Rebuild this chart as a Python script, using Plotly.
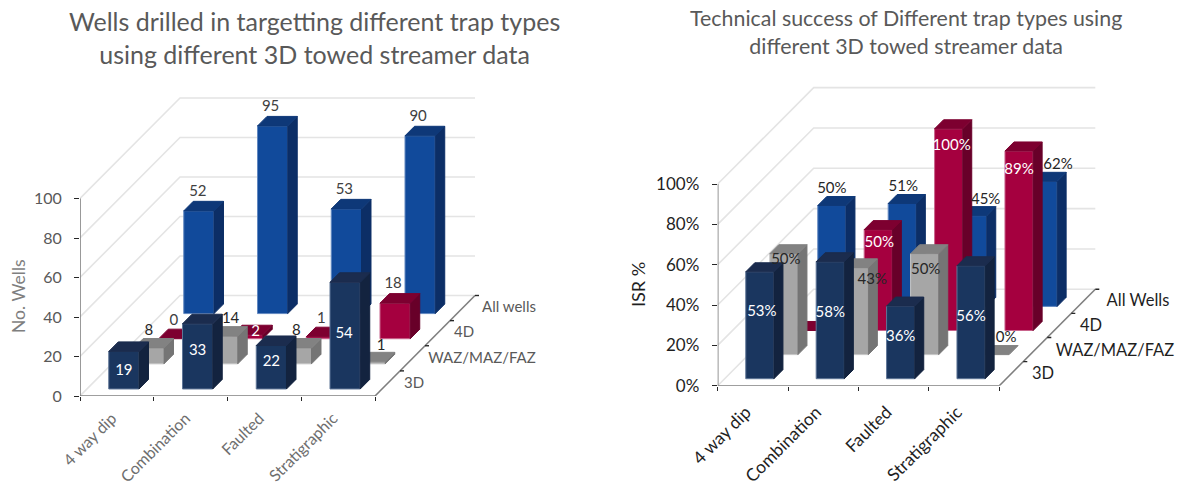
import plotly.graph_objects as go

W, H = 1182, 486
FONT = "Lato"

categories = ["4 way dip", "Combination", "Faulted", "Stratigraphic"]

# Wells drilled, one list per survey type (front row to back row)
wells_3d = [19, 33, 22, 54]
wells_waz = [8, 14, 8, 1]
wells_4d = [0, 2, 1, 18]
wells_all = [52, 95, 53, 90]
wells_rows = ["3D", "WAZ/MAZ/FAZ", "4D", "All wells"]

# Technical success in percent, same row order
tsr_3d = [53, 58, 36, 56]
tsr_waz = [50, 43, 50, 0]
tsr_4d = [0, 50, 100, 89]
tsr_all = [50, 51, 45, 62]
tsr_rows = ["3D", "WAZ/MAZ/FAZ", "4D", "All Wells"]

PALETTE = [
    dict(front="#1a365f", side="#13233f", top="#1b2c4e", edge="#5f7697"),
    dict(front="#a6a6a6", side="#757575", top="#828282", edge="#c6c6c6"),
    dict(front="#a5003f", side="#680029", top="#7d0030", edge="#c9648c"),
    dict(front="#114a9b", side="#0c2e66", top="#0e3878", edge="#6288c0"),
]

# Per-label placement relative to the top-centre of a bar's front face, in pixels:
# (right, down, colour); None means the column carries no label
DARK, WHITE = "#262626", "#ffffff"
wells_labels = [
    [(0, 20, WHITE), (0, 27, WHITE), (0, 17, WHITE), (-1, 52, WHITE)],
    [(0, -17, DARK), (8, -17, DARK), (0, -17, DARK), (11, -16, DARK)],
    [(0, -17, "#404040"), (8, -3, WHITE), (0, -17, "#404040"), (-2, -19, "#404040")],
    [(-1, -19, "#404040"), (-2, -19, "#404040"), (-2, -19, "#404040"), (-2, -19, "#404040")],
]
tsr_labels = [
    [(2, 40, WHITE), (0, 52, WHITE), (0, 31, WHITE), (0, 51, WHITE)],
    [(2, 6, DARK), (18, 12, DARK), (1, 16, DARK), (11, -16, DARK)],
    [None, (1, 14, WHITE), (3, 17, WHITE), (0, 19, WHITE)],
    [(0, -16, DARK), (1, -16, DARK), (13, -15, DARK), (15, -16, DARK)],
]


def panel(suffix, rows_values, row_names, labels, g):
    """Draw one oblique 3D column chart on the axes named by suffix."""
    cat_px, val_px = g["cat_px"], g["val_px"]
    to_x = lambda px: px / cat_px
    to_y = lambda px: -px / val_px
    axes = dict(xaxis="x" + suffix, yaxis="y" + suffix)
    row_dx, row_dy = g["depth_x"] / 4, g["depth_y"] / 4

    def project(cat, depth, value):
        # depth is counted in rows; it shifts right and up on the page
        return cat + to_x(depth * row_dx), value - to_y(depth * row_dy)

    def line(points, color, width):
        xs, ys = zip(*points)
        return go.Scatter(x=xs, y=ys, mode="lines", hoverinfo="skip", showlegend=False,
                          line=dict(color=color, width=width), **axes)

    def face(points, color, edge=None):
        xs, ys = zip(*(points + points[:1]))
        return go.Scatter(x=xs, y=ys, mode="lines", fill="toself", fillcolor=color,
                          hoverinfo="skip", showlegend=False,
                          line=dict(color=edge or color, width=1), **axes)

    traces = []
    # Wall gridlines: up the side wall, then along the back wall
    for v in range(0, 101, 20):
        traces.append(line([project(0, 0, v), project(0, 4, v), project(4, 4, v)], "#e4e4e4", 1.6))

    # Columns, back row first so nearer rows paint over farther ones
    half = g["bar_w"] / 2
    d0, d1 = g["bar_front"], g["bar_front"] + g["bar_depth"]
    anchors = []
    for r in range(len(rows_values) - 1, -1, -1):
        pal = PALETTE[r]
        for c, v in enumerate(rows_values[r]):
            cx = c + 0.5
            l, rr = cx - half, cx + half
            fl0, fr0 = project(l, r + d0, 0), project(rr, r + d0, 0)
            fl1, fr1 = project(l, r + d0, v), project(rr, r + d0, v)
            bl1, br1 = project(l, r + d1, v), project(rr, r + d1, v)
            br0 = project(rr, r + d1, 0)
            if v > 0:
                traces.append(face([fl0, fr0, fr1, fl1], pal["front"], pal["edge"]))
                traces.append(face([fr0, br0, br1, fr1], pal["side"]))
            traces.append(face([fl1, fr1, br1, bl1], pal["top"]))
            anchors.append((r, c, (fl1[0] + fr1[0]) / 2, fl1[1]))

    # Axis lines with the depth axis and its short horizontal ticks
    axis_color = "#7f7f7f"
    traces.append(line([project(0, 0, 0), project(0, 0, 100)], axis_color, 1.6))
    traces.append(line([project(0, 0, 0), project(4, 0, 0)], axis_color, 1.6))
    traces.append(line([project(4, 0, 0), project(4, 4, 0)], axis_color, 1.6))
    for r in range(1, 5):
        x, y = project(4, r, 0)
        traces.append(line([(x, y), (x + to_x(4), y)], "#262626", 1.4))

    # Value labels stay on top of every column
    xs, ys, texts, colors = [], [], [], []
    for r, c, ax, ay in anchors:
        if labels[r][c] is None:
            continue
        dx, dy, col = labels[r][c]
        xs.append(ax + to_x(dx))
        ys.append(ay + to_y(dy))
        texts.append(f"{rows_values[r][c]}{g['suffix_text']}")
        colors.append(col)
    traces.append(go.Scatter(x=xs, y=ys, text=texts, mode="text", hoverinfo="skip", showlegend=False,
                             textfont=dict(family=FONT, size=g["label_size"], color=colors),
                             textposition="middle center", cliponaxis=False, **axes))

    # Row names beside the depth axis
    rx, ry = [], []
    for r, (ox, oy) in enumerate(g["row_label_px"]):
        x, y = project(4, r + 0.5, 0)
        rx.append(x + to_x(ox))
        ry.append(y + to_y(oy))
    traces.append(go.Scatter(x=rx, y=ry, text=row_names, mode="text", hoverinfo="skip", showlegend=False,
                             textfont=dict(family=FONT, size=g["row_size"], color=g["text_color"]),
                             textposition="middle center", cliponaxis=False, **axes))
    return traces


left = dict(x0=80, y0=396, cat_px=73.75, val_px=1.975, depth_x=100, depth_y=100.5,
            bar_w=0.41, bar_front=0.28, bar_depth=0.38, suffix_text="",
            label_size=15, row_size=15, text_color="#595959",
            row_label_px=[(26.5, 1), (69.5, 1), (26.5, 0), (46.5, 0)])
right = dict(x0=717.7, y0=385.7, cat_px=70.4, val_px=2.017, depth_x=96, depth_y=96.4,
             bar_w=0.40, bar_front=0.29, bar_depth=0.375, suffix_text="%",
             label_size=15, row_size=16.5, text_color="#1f1f1f",
             row_label_px=[(31.7, 1.3), (79.7, 2), (31.7, 1.5), (54.7, 0.3)])

fig = go.Figure()
for t in panel("", [wells_3d, wells_waz, wells_4d, wells_all], wells_rows, wells_labels, left):
    fig.add_trace(t)
for t in panel("2", [tsr_3d, tsr_waz, tsr_4d, tsr_all], tsr_rows, tsr_labels, right):
    fig.add_trace(t)


def axis_pair(g, right_px, tick_size, tick_color, cat_color, cat_size, cat_standoff, cat_shift, percent):
    x_range = [0, (right_px - g["x0"]) / g["cat_px"]]
    y_range = [0, g["y0"] / g["val_px"]]
    xa = dict(domain=[g["x0"] / W, right_px / W], range=x_range, showgrid=False, zeroline=False,
              automargin=False, tickmode="array", tickvals=[0.5, 1.5, 2.5, 3.5], ticktext=categories,
              ticks="", tickangle=-45, showline=False, ticklabelstandoff=cat_standoff,
              ticklabelshift=cat_shift,
              tickfont=dict(family=FONT, size=cat_size, color=cat_color),
              minor=dict(tickmode="array", tickvals=[0, 1, 2, 3, 4], ticks="outside", ticklen=4,
                         tickcolor="#262626", tickwidth=1.4, showgrid=False))
    ya = dict(domain=[(H - g["y0"]) / H, 1], range=y_range, showgrid=False, zeroline=False,
              automargin=False, tickmode="array", tickvals=list(range(0, 101, 20)),
              ticktext=[f"{v}%" if percent else str(v) for v in range(0, 101, 20)],
              ticks="outside", ticklen=5, tickcolor="#262626", tickwidth=1.4, showline=False,
              ticklabelstandoff=9,
              tickfont=dict(family=FONT, size=tick_size, color=tick_color))
    return xa, ya


xa1, ya1 = axis_pair(left, 590, 16, "#595959", "#6e6e6e", 16, 9, -5, False)
xa2, ya2 = axis_pair(right, 1180, 17, "#1f1f1f", "#1f1f1f", 17.5, 12, -7, True)
xa2["anchor"] = "y2"
ya2["anchor"] = "x2"

fig.update_layout(
    width=W, height=H, margin=dict(l=0, r=0, t=0, b=0),
    paper_bgcolor="white", plot_bgcolor="rgba(0,0,0,0)", showlegend=False,
    xaxis=xa1, yaxis=ya1, xaxis2=xa2, yaxis2=ya2,
    annotations=[
        dict(text="Wells drilled in targetting different trap types<br>using different 3D towed streamer data",
             x=314 / W, y=1 - 38 / H, xref="paper", yref="paper", xanchor="center", yanchor="middle",
             showarrow=False, align="center", font=dict(family=FONT, size=25, color="#595959")),
        dict(text="Technical success of Different trap types using<br>different 3D towed streamer data",
             x=906 / W, y=1 - 32 / H, xref="paper", yref="paper", xanchor="center", yanchor="middle",
             showarrow=False, align="center", font=dict(family=FONT, size=21.4, color="#595959")),
        dict(text="No. Wells", x=18 / W, y=1 - 296 / H, xref="paper", yref="paper", xanchor="center",
             yanchor="middle", showarrow=False, textangle=-90,
             font=dict(family=FONT, size=17.5, color="#7f7f7f")),
        dict(text="ISR %", x=638 / W, y=1 - 285 / H, xref="paper", yref="paper", xanchor="center",
             yanchor="middle", showarrow=False, textangle=-90,
             font=dict(family=FONT, size=18, color="#1f1f1f")),
    ],
)

fig.write_html("out.html")
